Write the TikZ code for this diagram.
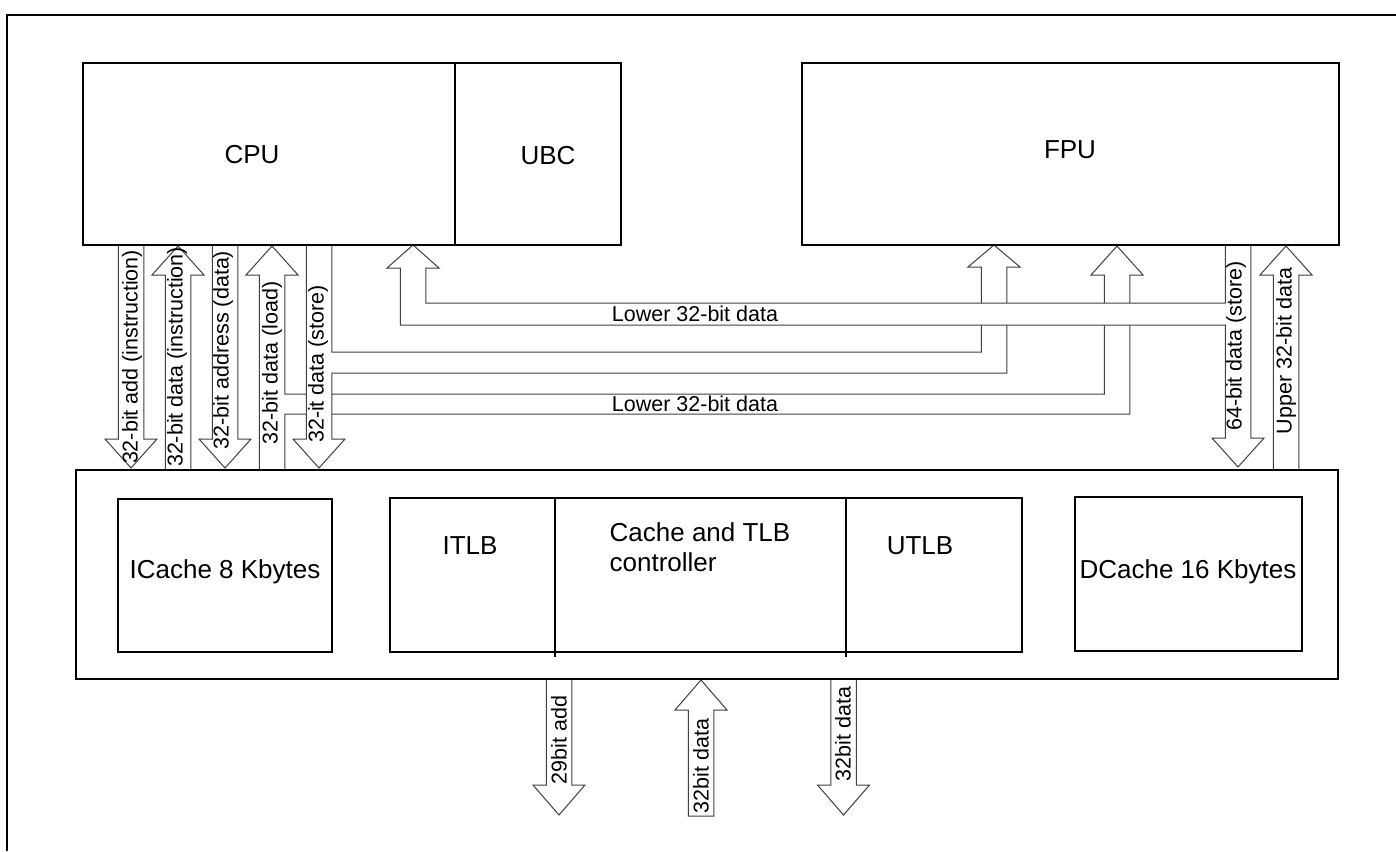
\documentclass[tikz,border=0pt]{standalone}
\usepackage{fontspec}
\setmainfont{Liberation Sans}

% block arrow: centre x, shaft start, head base, tip
\newcommand{\blockarrow}[4]{%
  \draw[barrow] ({#1-12.75},#2) -- ({#1-12.75},#3) -- ({#1-26},#3) -- (#1,#4)
    -- ({#1+26},#3) -- ({#1+12.75},#3) -- ({#1+12.75},#2) -- cycle;}

\begin{document}
\begin{tikzpicture}[
  x=0.5pt, y=-0.5pt,
  box/.style={draw, line width=1pt},
  barrow/.style={draw=black!75, fill=white, line width=0.5pt},
  blbl/.style={font=\fontsize{13}{15}\selectfont, inner sep=0pt},
  hlbl/.style={font=\fontsize{10.75}{12}\selectfont, inner sep=0pt},
  vlbl/.style={hlbl, rotate=90},
]
\useasboundingbox (0,0) rectangle (1396,851);

% outer frame
\draw[line width=1pt] (7,851) -- (7,15) -- (1396,15);

% lower 32-bit bus: load arrow -> FPU
\draw[barrow] (259.25,470) -- (259.25,275) -- (246,275) -- (272,246) -- (298,275)
  -- (284.75,275) -- (284.75,394) -- (1104.25,394) -- (1104.25,275) -- (1091,275)
  -- (1117,246) -- (1143,275) -- (1129.75,275) -- (1129.75,414) -- (284.75,414)
  -- (284.75,470) -- cycle;

% store bus: CPU -> cache and FPU
\draw[barrow] (306.25,245) -- (306.25,439) -- (293,439) -- (319,468) -- (345,439)
  -- (331.75,439) -- (331.75,373) -- (1006.75,373) -- (1006.75,267) -- (1020,267)
  -- (994,245) -- (968,267) -- (981.25,267) -- (981.25,352) -- (331.75,352)
  -- (331.75,245) -- cycle;

% upper bus: FPU store -> UBC
\draw[barrow] (400.25,325) -- (400.25,268) -- (387,268) -- (413,245) -- (439,268)
  -- (425.75,268) -- (425.75,303) -- (1225.25,303) -- (1225.25,245) -- (1250.75,245)
  -- (1250.75,438) -- (1264,438) -- (1238,467) -- (1212,438) -- (1225.25,438)
  -- (1225.25,325) -- cycle;

% single block arrows
\foreach \x/\s/\b/\t in {131/245/439/468, 178/470/275/246, 225/245/439/468,
    1286/470/275/246, 559/679/785/815, 701/816/710/680, 843.5/679/785/815}
  {\blockarrow{\x}{\s}{\b}{\t}}

% bus labels
\node[hlbl] (lowA) at (695,314) {Lower 32-bit data};
\node[hlbl] (lowB) at (695,404) {Lower 32-bit data};

% arrow labels
\foreach \x/\y/\txt/\n in {132/357/32-bit add (instruction)/ladd,
    177/357/32-bit data (instruction)/ldat, 223/350/32-bit address (data)/laddr,
    272/363/32-bit data (load)/lload, 318/364/32-it data (store)/lstore,
    1236/346/64-bit data (store)/lst64, 1286/351/Upper 32-bit data/lup,
    559/740/29bit add/badd, 701/766/32bit data/bin, 843/734/32bit data/bout}
  \node[vlbl] (\n) at (\x,\y) {\txt};

% top units
\draw[box] (83,63) rectangle (455,245);
\draw[box] (455,63) rectangle (621,245);
\draw[box] (802,63) rectangle (1339,245);
\node[blbl] (cpu) at (252,155) {CPU};
\node[blbl] (ubc) at (548,156) {UBC};
\node[blbl] (fpu) at (1070,150) {FPU};

% cache unit
\draw[box] (76,470) rectangle (1338,679);
\draw[box] (118,499) rectangle (332,652);
\draw[box] (1075,497) rectangle (1302,651);
\draw[box] (390,498) rectangle (1022,652);
\draw[box] (555,498) -- (555,657);
\draw[box] (846,498) -- (846,657);
\node[blbl] (icache) at (225,572) {ICache 8 Kbytes};
\node[blbl] (dcache) at (1188,572) {DCache 16 Kbytes};
\node[blbl] (itlb) at (470,546) {ITLB};
\node[blbl, align=left] (ctrl) at (700,547) {Cache and TLB\\controller};
\node[blbl] (utlb) at (920,546) {UTLB};
\end{tikzpicture}
\end{document}
